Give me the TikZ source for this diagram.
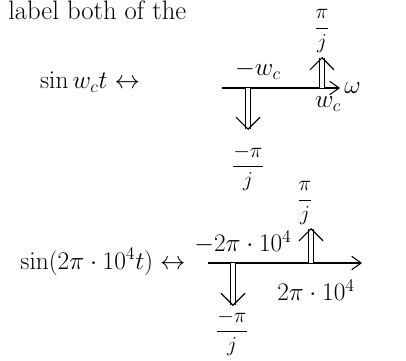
\RequirePackage{fix-cm}
\documentclass[tikz,border=0pt]{standalone}
\usepackage{amsmath}
\usepackage{amssymb}
\usetikzlibrary{arrows.meta, positioning}

\tikzset{
	hand/.style={font=\fontsize{19}{22}\selectfont, inner sep=1pt},
	frc/.style={font=\fontsize{16}{18}\selectfont, inner sep=1pt},
	axisline/.style={thick, -{Straight Barb[length=7pt, width=10pt]}},
	impulse/.style={double, double distance=3pt, thick,
		-{Straight Barb[length=9pt, width=18pt, line width=0.9pt]}},
	printed/.style={font=\fontsize{20}{24}\selectfont, inner sep=0pt, anchor=base west}
}

\begin{document}
\begin{tikzpicture}[x=0.75pt, y=-0.75pt]
	\useasboundingbox (0,0) rectangle (406,360);
	% cut-off line of the printed text
	\node[printed] (txt) at (8,20) {label both of the};

	% sin w_c t
	\node[hand] (sig1) at (90,82) {$\sin w_c t \leftrightarrow$};
	\coordinate (ax1s) at (222,88);
	\coordinate (ax1e) at (340,88);
	\draw[axisline] (ax1s) -- (ax1e);
	\node[hand, right=2pt of ax1e] (om) {$\omega$};
	\node[hand] (mwc) at (258,70) {$-w_c$};
	\node[hand] (pwc) at (328,104) {$w_c$};
	\coordinate (dn1s) at (248,88);
	\coordinate (dn1e) at (248,130);
	\draw[impulse] (dn1s) -- (dn1e);
	\node[frc] (dn1lab) at (248,168) {$\dfrac{-\pi}{j}$};
	\coordinate (up1s) at (322,88);
	\coordinate (up1e) at (322,57);
	\draw[impulse] (up1s) -- (up1e);
	\node[frc] (up1lab) at (322,31) {$\dfrac{\pi}{j}$};

	% sin(2pi 10^4 t)
	\node[hand] (sig2) at (103,262) {$\sin(2\pi\cdot 10^4 t)\leftrightarrow$};
	\coordinate (ax2s) at (208,263);
	\coordinate (ax2e) at (362,263);
	\draw[axisline] (ax2s) -- (ax2e);
	\node[hand] (mf) at (243,242) {$-2\pi\cdot 10^4$};
	\node[hand] (pf) at (316,290) {$2\pi\cdot 10^4$};
	\coordinate (dn2s) at (233,263);
	\coordinate (dn2e) at (233,306);
	\draw[impulse] (dn2s) -- (dn2e);
	\node[frc] (dn2lab) at (232,333) {$\dfrac{-\pi}{j}$};
	\coordinate (up2s) at (311,263);
	\coordinate (up2e) at (311,228);
	\draw[impulse] (up2s) -- (up2e);
	\node[frc] (up2lab) at (305,203) {$\dfrac{\pi}{j}$};
\end{tikzpicture}
\end{document}
